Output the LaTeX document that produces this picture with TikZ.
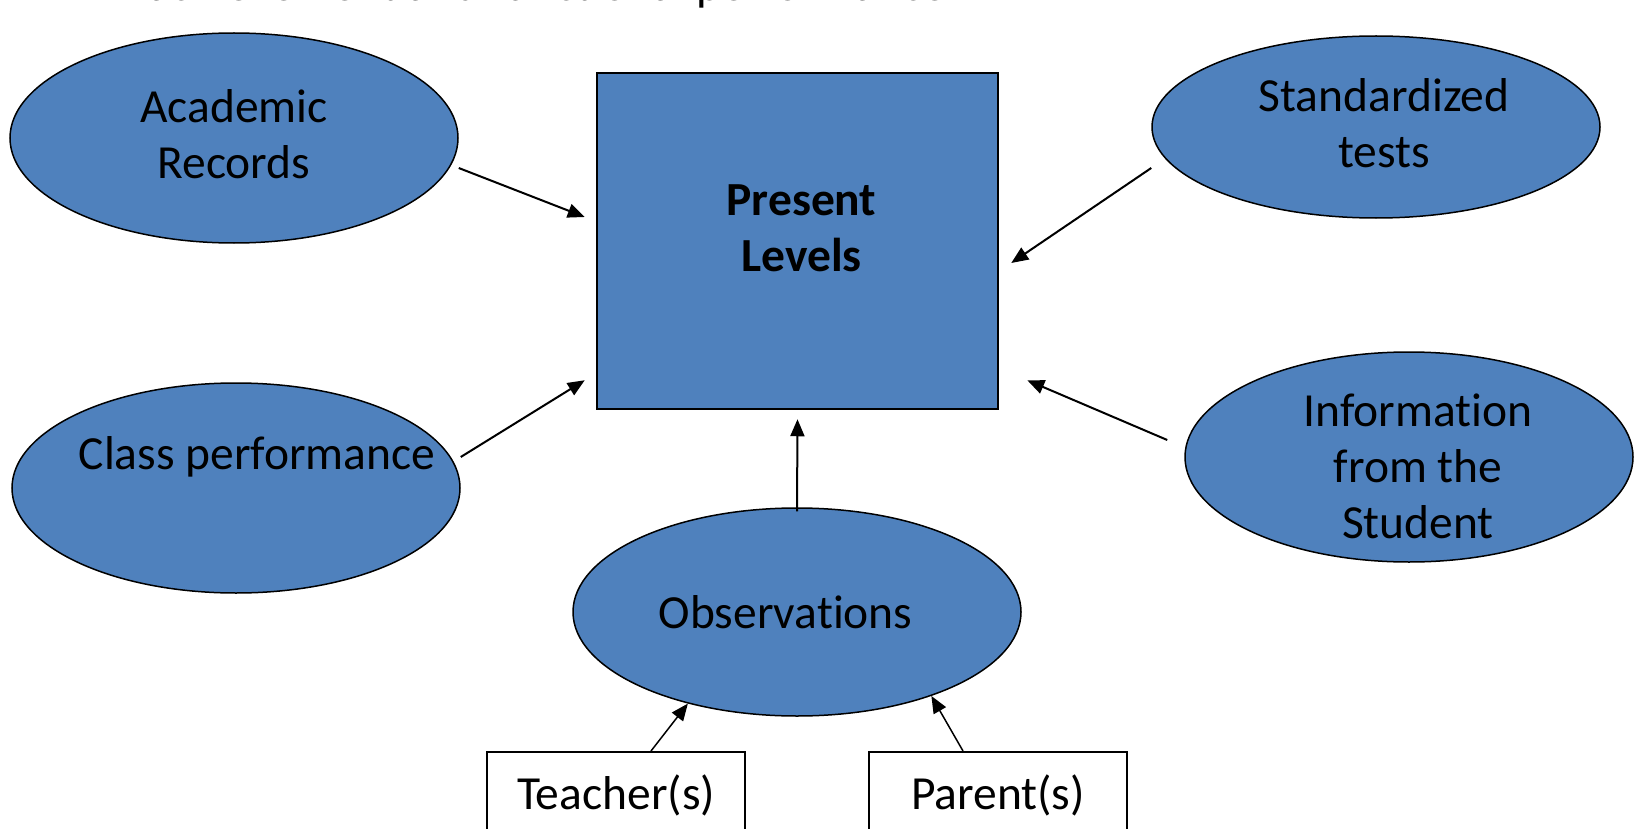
\documentclass[tikz,border=0pt]{standalone}
\usepackage{fontspec}
\setmainfont{Carlito}[Ligatures=NoCommon]
\usetikzlibrary{positioning,arrows.meta,calc,shapes.geometric}
\definecolor{boxblue}{HTML}{4F81BD}

\begin{document}
\begin{tikzpicture}[x=1pt, y=-1pt,
        every node/.style={font=\fontsize{47.5}{56}\selectfont},
        source/.style={ellipse, draw=black, fill=boxblue, line width=1.5pt, minimum width=448pt, minimum height=210pt, inner sep=0pt},
        srclabel/.style={align=center, inner sep=0pt},
        levels/.style={draw=black, fill=boxblue, line width=2.5pt, minimum width=401pt, minimum height=336pt, inner sep=0pt},
        person/.style={draw=black, fill=white, line width=2pt, minimum width=258pt, minimum height=86pt, inner sep=0pt},
        arrow/.style={-{Triangle[length=17pt, width=14pt]}, line width=2pt, black}
    ]
        \useasboundingbox (0,0) rectangle (1640,829);

        % Heading line, cut off by the top edge
        \node[anchor=base west, inner sep=0pt] (heading) at (148,0.5) {achievement and functional performance};

        % Centre box
        \node[levels] (present) at (797.5,241) {};
        \node[srclabel, font=\fontsize{47.5}{56}\selectfont\bfseries] (presenttxt) at ([xshift=4pt, yshift=12.5pt]present.center) {Present\\Levels};

        % Sources of information
        \node[source] (records) at (234,138) {};
        \node[srclabel] (recordstxt) at ([yshift=4pt]records.center) {Academic\\Records};
        \node[source] (classperf) at (236,488) {};
        \node[srclabel] (classtxt) at ([xshift=21pt, yshift=31pt]classperf.center) {Class performance};
        \node[source, minimum height=182pt] (tests) at (1376,127) {};
        \node[srclabel] (teststxt) at ([xshift=8pt, yshift=3.5pt]tests.center) {Standardized\\tests};
        \node[source] (student) at (1409,457) {};
        \node[srclabel] (studenttxt) at ([xshift=9pt, yshift=-9.5pt]student.center) {Information\\from the\\Student};
        \node[source, minimum height=208pt] (obs) at (797,612) {};
        \node[srclabel] (obstxt) at ([xshift=-11.5pt]obs.center) {Observations};

        % Who observes
        \node[person] (teacher) at (616,795) {Teacher(s)};
        \node[person] (parent) at (998,795) {Parent(s)};

        % Arrows into the centre box
        \draw[arrow] ([yshift=-30pt]records.east) -- ([xshift=-11pt, yshift=24pt]present.west);
        \draw[arrow] ([yshift=31pt]classperf.east) -- ([xshift=-11pt, yshift=30pt]present.south west);
        \draw[arrow] ([yshift=-41pt]tests.west) -- ([xshift=12pt, yshift=-22pt]present.east);
        \draw[arrow] ([xshift=-17pt, yshift=17pt]student.west) -- ([xshift=28pt, yshift=30pt]present.south east);
        \draw[arrow] ([yshift=-4pt]obs.north) -- ([yshift=-9pt]present.south);

        % Arrows into the observations
        \draw[arrow, line width=1.5pt] ([xshift=35pt]teacher.north) -- (obs.220);
        \draw[arrow, line width=1.5pt] ([xshift=-35pt]parent.north) -- (obs.328);

    \end{tikzpicture}
\end{document}
